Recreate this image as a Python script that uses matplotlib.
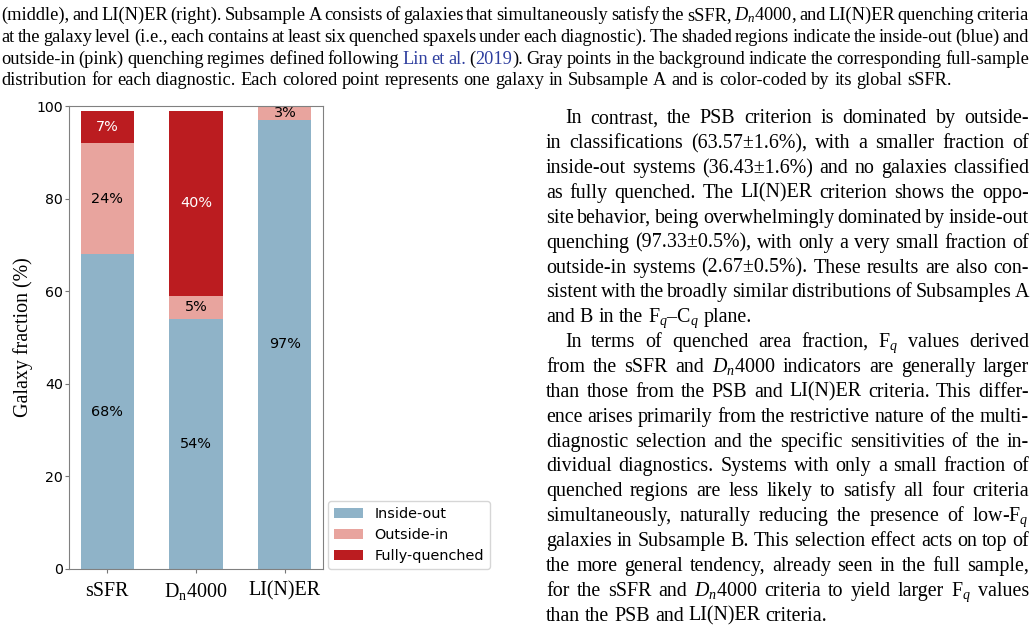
import re
import numpy as np
import matplotlib
matplotlib.use('Agg')
import matplotlib.pyplot as plt

plt.rcParams['mathtext.fontset'] = 'custom'
plt.rcParams['mathtext.rm'] = 'Liberation Serif'
plt.rcParams['mathtext.it'] = 'Liberation Serif:italic'

# bar data (percent of galaxies in Subsample A)
categories = ['sSFR', 'D$_\\mathrm{n}$4000', 'LI(N)ER']
inside_out = [68, 54, 97]
outside_in = [24, 5, 3]
fully_quenched = [7, 40, 0]
series_names = ['Inside-out', 'Outside-in', 'Fully-quenched']

caption_lines = [
    "(middle), and LI(N)ER (right). Subsample A consists of galaxies that simultaneously satisfy the sSFR, $D_n$4000, and LI(N)ER quenching criteria",
    "at the galaxy level (i.e., each contains at least six quenched spaxels under each diagnostic). The shaded regions indicate the inside-out (blue) and",
    "outside-in (pink) quenching regimes defined following <Lin> <et> <al.> (<2019>). Gray points in the background indicate the corresponding full-sample",
    "distribution for each diagnostic. Each colored point represents one galaxy in Subsample A and is color-coded by its global sSFR.",
]

body_lines = [
    "In contrast, the PSB criterion is dominated by outside-",
    "in classifications (63.57\u00b11.6%), with a smaller fraction of",
    "inside-out systems (36.43\u00b11.6%) and no galaxies classified",
    "as fully quenched.  The LI(N)ER criterion shows the oppo-",
    "site behavior, being overwhelmingly dominated by inside-out",
    "quenching (97.33\u00b10.5%), with only a very small fraction of",
    "outside-in systems (2.67\u00b10.5%). These results are also con-",
    "sistent with the broadly similar distributions of Subsamples A",
    "and B in the F$_q$\u2013C$_q$ plane.",
    "In terms of quenched area fraction, F$_q$ values derived",
    "from the sSFR and $D_n$4000 indicators are generally larger",
    "than those from the PSB and LI(N)ER criteria.  This differ-",
    "ence arises primarily from the restrictive nature of the multi-",
    "diagnostic selection and the specific sensitivities of the in-",
    "dividual diagnostics.  Systems with only a small fraction of",
    "quenched regions are less likely to satisfy all four criteria",
    "simultaneously, naturally reducing the presence of low-F$_q$",
    "galaxies in Subsample B. This selection effect acts on top of",
    "the more general tendency, already seen in the full sample,",
    "for the sSFR and $D_n$4000 criteria to yield larger F$_q$ values",
    "than the PSB and LI(N)ER criteria.",
]
para_start = [0, 9]
para_end = [8, 20]

blue = '#8fb3c8'
pink = '#e8a49e'
red = '#bb1c20'
link = '#2f3f9f'

W, H = 1036, 630
fig = plt.figure(figsize=(W / 100, H / 100), dpi=100)
ax = fig.add_axes([69 / W, 1 - 569 / H, (323 - 69) / W, (569 - 106) / H])

x = np.arange(len(categories))
bottom = np.zeros(len(categories))
for vals, col, name in zip([inside_out, outside_in, fully_quenched],
                           [blue, pink, red], series_names):
    ax.bar(x, vals, 0.6, bottom=bottom, color=col, label=name, linewidth=0)
    for xi, b, v in zip(x, bottom, vals):
        if v > 0:
            ax.text(xi, b + v / 2, f'{v}%', ha='center', va='center', fontsize=10.4,
                    color='white' if col == red else 'black')
    bottom = bottom + np.array(vals)

ax.set_ylim(0, 100)
ax.set_yticks(range(0, 101, 20))
ax.set_xticks(x)
ax.set_xticklabels(categories, fontfamily='Liberation Serif', fontsize=14.4)
ax.set_ylabel('Galaxy fraction (%)', fontfamily='Liberation Serif', fontsize=14.4, labelpad=2)
ax.tick_params(axis='y', length=3, pad=1.5, labelsize=10.2, color='#777777')
ax.tick_params(axis='x', length=3, pad=6, color='#777777')
for s in ax.spines.values():
    s.set_color('#808080')
ax.legend(loc='lower left', bbox_to_anchor=(1.02, 0), borderaxespad=0, fontsize=10.4)

renderer = fig.canvas.get_renderer()


def put_line(text, y, x0, x1, size, justify):
    words = []
    for w in text.split():
        pieces = []
        for p in re.split(r'(<[^>]*>)', w):
            if not p:
                continue
            col = 'black'
            if p.startswith('<'):
                p = p[1:-1]
                col = link
            t = fig.text(0, 0, p, fontsize=size, fontfamily='Liberation Serif',
                         color=col, va='baseline', ha='left')
            pieces.append((t, t.get_window_extent(renderer).width))
        words.append(pieces)
    widths = [sum(pw for _, pw in ws) for ws in words]
    sp = fig.text(0, 0, 'a a', fontsize=size, fontfamily='Liberation Serif')
    sa = fig.text(0, 0, 'aa', fontsize=size, fontfamily='Liberation Serif')
    space = sp.get_window_extent(renderer).width - sa.get_window_extent(renderer).width
    sp.remove()
    sa.remove()
    if justify and len(words) > 1:
        space = (x1 - x0 - sum(widths)) / (len(words) - 1)
    cx = x0
    for ws in words:
        for t, pw in ws:
            t.set_position((cx / W, 1 - y / H))
            cx += pw
        cx += space


for i, line in enumerate(caption_lines):
    put_line(line, 20.3 + 21.6 * i, 1.5, 1029, 13.2, i < len(caption_lines) - 1)

for i, line in enumerate(body_lines):
    x0 = 565 if i in para_start else 546
    put_line(line, 123.3 + 24.87 * i, x0, 1029, 14.4, i not in para_end)

fig.savefig('out.png', dpi=100)
